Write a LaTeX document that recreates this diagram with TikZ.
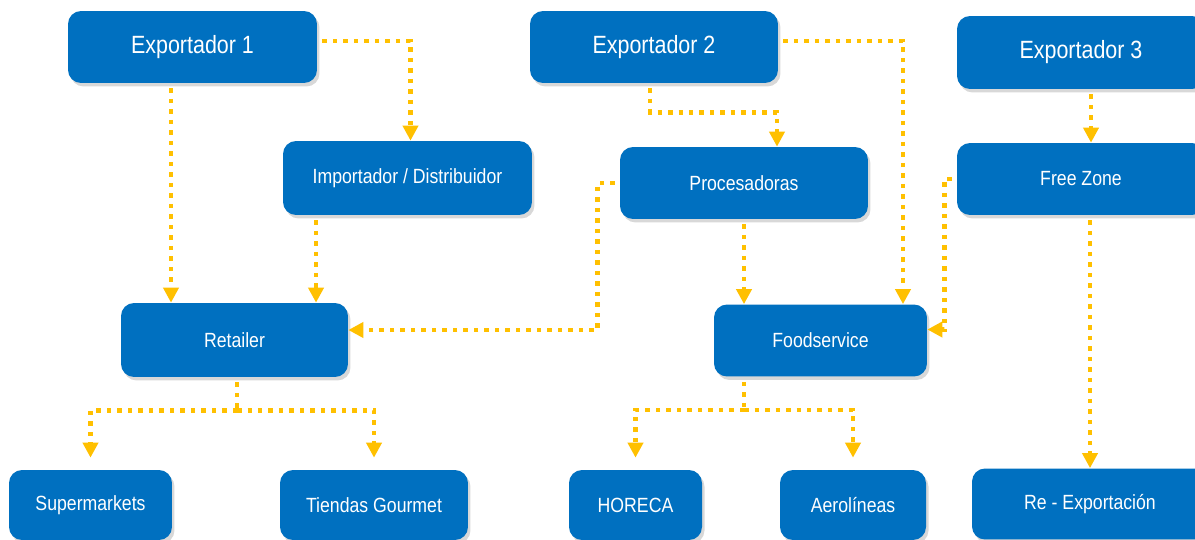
\documentclass[tikz,border=0pt]{standalone}
\usepackage{fontspec}
\setmainfont[FakeStretch=0.86]{Liberation Sans}
\usetikzlibrary{arrows.meta,shadows}

\definecolor{boxblue}{RGB}{0,112,192}
\definecolor{flowgold}{RGB}{255,192,0}

\tikzset{
  caja/.style={fill=boxblue, text=white, rounded corners=0.26cm,
    minimum height=1.44cm, align=center, font=\fontsize{11.7}{13}\selectfont,
    drop shadow={opacity=0.3, shadow xshift=0.05cm, shadow yshift=-0.07cm}},
  cajagrande/.style={caja, font=\fontsize{14.2}{16}\selectfont},
  tramo/.style={flowgold, line width=0.09cm, dash pattern=on 0.09cm off 0.12cm, shorten <=0.1cm},
  flujo/.style={tramo, -{Triangle[width=0.3cm,length=0.3cm]}}
}

\begin{document}
\begin{tikzpicture}[x=0.02cm,y=-0.02cm]
\path[use as bounding box, fill=white] (0,0) rectangle (1195,540);

\node[cajagrande, minimum width=4.98cm] (exp1) at (192.5,47) {Exportador 1};
\node[cajagrande, minimum width=4.96cm] (exp2) at (654,47) {Exportador 2};
\node[cajagrande, minimum width=4.96cm, minimum height=1.46cm] (exp3) at (1081,52.5) {Exportador 3};

\node[caja, minimum width=4.98cm, minimum height=1.48cm] (imp) at (407.5,178) {Importador / Distribuidor};
\node[caja, minimum width=4.96cm] (proc) at (744,183) {Procesadoras};
\node[caja, minimum width=4.96cm] (fz) at (1081,179) {Free Zone};

\node[caja, minimum width=4.54cm, minimum height=1.48cm] (ret) at (234.5,340) {Retailer};
\node[caja, minimum width=4.26cm] (food) at (820.5,340.5) {Foodservice};

\node[caja, minimum width=3.26cm, minimum height=1.4cm] (sup) at (90.5,505) {Supermarkets};
\node[caja, minimum width=3.76cm, minimum height=1.4cm] (gour) at (374,505) {Tiendas Gourmet};
\node[caja, minimum width=2.66cm, minimum height=1.4cm] (horeca) at (635.5,505) {HORECA};
\node[caja, minimum width=2.92cm, minimum height=1.4cm] (aero) at (853,505) {Aerolíneas};
\node[caja, minimum width=4.72cm, minimum height=1.42cm] (reexp) at (1090,504) {Re - Exportación};

% Exportador 1
\draw[flujo] ([yshift=0.12cm]exp1.east) -| ([xshift=0.06cm]imp.north);
\draw[flujo] ([xshift=-0.43cm]exp1.south) -- ([xshift=-0.43cm]exp1.south |- ret.north);
\draw[flujo] ([xshift=-1.83cm]imp.south) -- ([xshift=-1.83cm]imp.south |- ret.north);

% Exportador 2
\draw[flujo] ([xshift=-0.08cm]exp2.south) -- ++(0,29) -| ([xshift=0.66cm]proc.north);
\draw[flujo] ([yshift=0.12cm]exp2.east) -| ([xshift=1.65cm]food.north);
\draw[flujo] (proc.west) -- ++(-22,0) |- ([yshift=0.2cm]ret.east);
\draw[flujo] (proc.south) -- (proc.south |- food.north);

% Exportador 3
\draw[flujo] ([xshift=0.2cm]exp3.south) -- ([xshift=0.2cm]fz.north);
\draw[flujo] (fz.west) -- ++(-12,0) |- ([yshift=0.22cm]food.east);
\draw[flujo] (fz.south -| reexp.north) -- (reexp.north);

% canales
\draw[tramo] ([xshift=0.05cm]ret.south) -- ++(0,33) coordinate (retsplit);
\draw[flujo, shorten <=0pt, shorten >=0.24cm] (retsplit) -| (sup.north);
\draw[flujo, shorten <=0pt, shorten >=0.24cm] (retsplit) -| (gour.north);

\draw[tramo] (food.south -| proc.south) -- ++(0,33) coordinate (foodsplit);
\draw[flujo, shorten <=0pt, shorten >=0.24cm] (foodsplit) -| (horeca.north);
\draw[flujo, shorten <=0pt, shorten >=0.24cm] (foodsplit) -| (aero.north);

\end{tikzpicture}
\end{document}
